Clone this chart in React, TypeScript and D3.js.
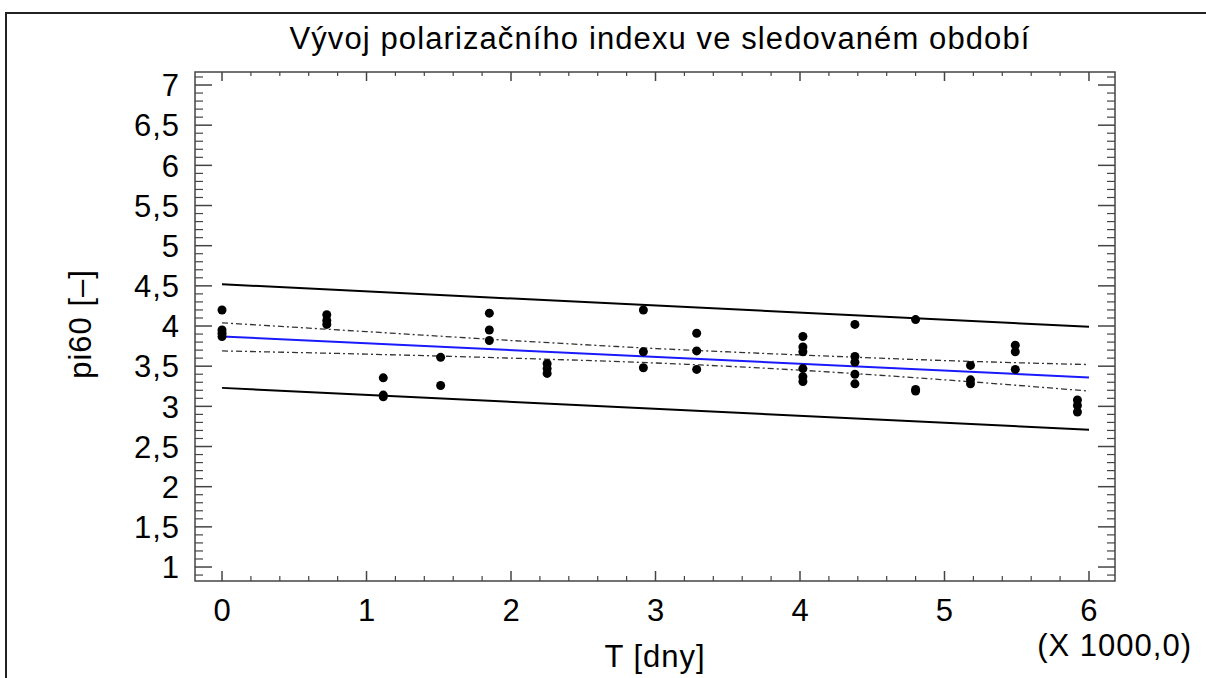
import React from "react";
import * as d3 from "d3";

// ---- data (x in thousands of days) ----
const groupX = [0, 0.725, 1.116, 1.513, 1.85, 2.25, 2.916, 3.285, 4.02, 4.38, 4.8, 5.18, 5.49, 5.92];
const groupY = [
  [4.2, 3.95, 3.91, 3.87],
  [4.14, 4.07, 4.02],
  [3.355, 3.14, 3.12],
  [3.61, 3.26],
  [4.16, 3.95, 3.82],
  [3.53, 3.47, 3.41],
  [4.2, 3.68, 3.48],
  [3.91, 3.69, 3.46],
  [3.87, 3.74, 3.68, 3.47, 3.37, 3.31],
  [4.02, 3.62, 3.55, 3.4, 3.28],
  [4.08, 3.21, 3.19],
  [3.51, 3.33, 3.28],
  [3.76, 3.68, 3.46],
  [3.08, 3.01, 2.93],
];
const fitX = [0, 6];
const fitY = [3.87, 3.36];
const predUpperY = [4.52, 3.99];
const predLowerY = [3.23, 2.71];
const bandX = [0, 1, 2, 3, 4, 5, 6];
const confUpperY = [4.04, 3.93, 3.82, 3.72, 3.64, 3.57, 3.52];
const confLowerY = [3.69, 3.65, 3.6, 3.54, 3.45, 3.33, 3.19];
const xTickValues = [0, 1, 2, 3, 4, 5, 6];
const yTickValues = [1, 1.5, 2, 2.5, 3, 3.5, 4, 4.5, 5, 5.5, 6, 6.5, 7];
const titleText = "Vývoj polarizačního indexu ve sledovaném období";
const xLabel = "T [dny]";
const yLabel = "pi60 [–]";
const xMultiplier = "(X 1000,0)";

const W = 1206;
const H = 678;
const L = 195, R = 1115, T = 72, B = 581;
const FONT = "'Liberation Sans', Arial, sans-serif";

export default function App() {
  const x = d3.scaleLinear().domain([-0.187, 6.18]).range([L, R]);
  const y = d3.scaleLinear().domain([0.826, 7.162]).range([B, T]);

  const fmt = (v: number) => String(v).replace(".", ",");

  const points: { x: number; y: number }[] = [];
  groupX.forEach((gx, i) => groupY[i].forEach((gy) => points.push({ x: gx, y: gy })));

  const straight = (ys: number[]) =>
    d3.line<number>().x((_, i) => x(fitX[i])).y((v) => y(v))(ys) || "";
  const band = (ys: number[]) =>
    d3
      .line<number>()
      .x((_, i) => x(bandX[i]))
      .y((v) => y(v))
      .curve(d3.curveMonotoneX)(ys) || "";

  // ticks
  const xMinor = d3.range(0, 6.0001, 0.2).filter((v) => Math.abs(v - Math.round(v)) > 1e-6);
  const yMinor = d3
    .range(0.9, 7.1001, 0.1)
    .filter((v) => Math.abs(v * 2 - Math.round(v * 2)) > 1e-6);

  const axisColor = "#444";

  return (
    <svg
      width={W}
      height={H}
      style={{ position: "absolute", left: 0, top: 0, background: "#fff" }}
      fontFamily={FONT}
    >
      <rect x={0} y={0} width={W} height={H} fill="#fff" />
      <rect x={6} y={13} width={1260} height={720} fill="none" stroke="#222" strokeWidth={2} />

      <text x={660} y={49} textAnchor="middle" fontSize={31} letterSpacing={1.1} fill="#000">
        {titleText}
      </text>

      {/* plot frame */}
      <rect x={L} y={T} width={R - L} height={B - T} fill="none" stroke={axisColor} strokeWidth={1.5} />

      {/* x ticks bottom & top */}
      {xTickValues.map((v) => (
        <g key={"xt" + v}>
          <line x1={x(v)} x2={x(v)} y1={B} y2={B - 10} stroke={axisColor} strokeWidth={1.5} />
          <line x1={x(v)} x2={x(v)} y1={T} y2={T + 9} stroke={axisColor} strokeWidth={1.5} />
          <text x={x(v)} y={621} textAnchor="middle" fontSize={31} fill="#000">
            {fmt(v)}
          </text>
        </g>
      ))}
      {xMinor.map((v, i) => (
        <g key={"xm" + i}>
          <line x1={x(v)} x2={x(v)} y1={B} y2={B - 5} stroke={axisColor} strokeWidth={1.2} />
          <line x1={x(v)} x2={x(v)} y1={T} y2={T + 4} stroke={axisColor} strokeWidth={1.2} />
        </g>
      ))}

      {/* y ticks left & right */}
      {yTickValues.map((v) => (
        <g key={"yt" + v}>
          <line x1={L} x2={L + 17} y1={y(v)} y2={y(v)} stroke={axisColor} strokeWidth={1.5} />
          <line x1={R} x2={R - 17} y1={y(v)} y2={y(v)} stroke={axisColor} strokeWidth={1.5} />
          <text x={180} y={y(v)} dy="0.36em" textAnchor="end" fontSize={31} letterSpacing={1} fill="#000">
            {fmt(v)}
          </text>
        </g>
      ))}
      {yMinor.map((v, i) => (
        <g key={"ym" + i}>
          <line x1={L} x2={L + 8} y1={y(v)} y2={y(v)} stroke={axisColor} strokeWidth={1.2} />
          <line x1={R} x2={R - 8} y1={y(v)} y2={y(v)} stroke={axisColor} strokeWidth={1.2} />
        </g>
      ))}

      {/* axis titles */}
      <text x={655} y={667} textAnchor="middle" fontSize={31} letterSpacing={1} fill="#000">
        {xLabel}
      </text>
      <text x={1192} y={656} textAnchor="end" fontSize={31} letterSpacing={1} fill="#000">
        {xMultiplier}
      </text>
      <text
        transform={`translate(91,324) rotate(-90)`}
        textAnchor="middle"
        fontSize={31}
        letterSpacing={1}
        fill="#000"
      >
        {yLabel}
      </text>

      {/* prediction limits */}
      <path d={straight(predUpperY)} fill="none" stroke="#000" strokeWidth={2} />
      <path d={straight(predLowerY)} fill="none" stroke="#000" strokeWidth={2} />
      {/* confidence limits */}
      <path d={band(confUpperY)} fill="none" stroke="#333" strokeWidth={1.3} strokeDasharray="6,3,2,3" />
      <path d={band(confLowerY)} fill="none" stroke="#333" strokeWidth={1.3} strokeDasharray="6,3,2,3" />
      {/* fit */}
      <path d={straight(fitY)} fill="none" stroke="#1a1aff" strokeWidth={2} />

      {/* points */}
      {points.map((p, i) => (
        <circle key={"p" + i} cx={x(p.x)} cy={y(p.y)} r={4.5} fill="#000" />
      ))}
    </svg>
  );
}
